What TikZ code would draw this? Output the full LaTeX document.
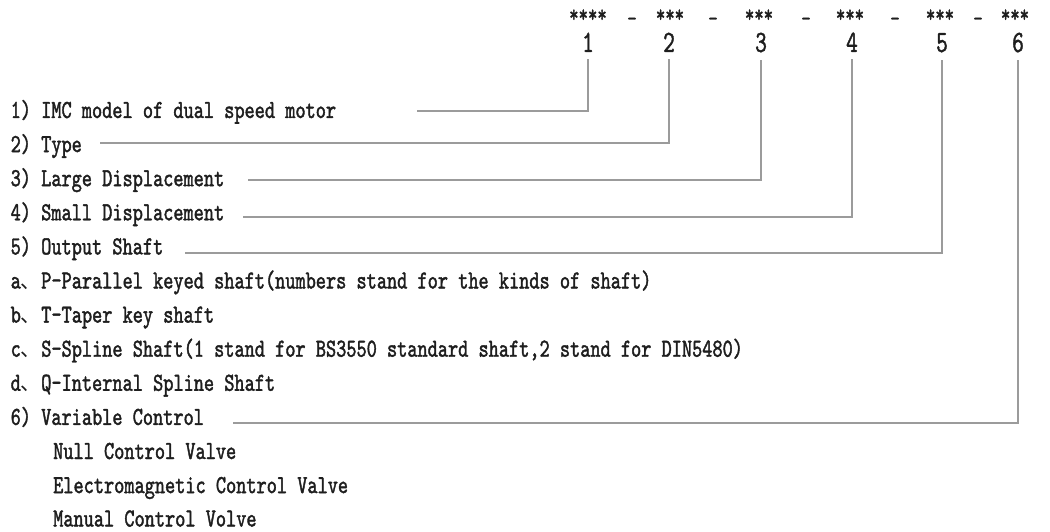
\documentclass[tikz,border=0pt]{standalone}
\usepackage{fontspec}
\newfontfamily\reffont[FakeStretch=0.745,FakeBold=1.5]{lmmono10-regular.otf}
\newfontfamily\numfont[FakeStretch=0.72,FakeBold=1.2]{lmmono10-regular.otf}
\newfontfamily\cjkfont{Noto Sans CJK SC}
\newcommand{\cjkcomma}{{\cjkfont\fontsize{20.4}{20}\selectfont 、}}
\definecolor{ink}{RGB}{30,30,30}
\definecolor{linegray}{RGB}{155,155,155}
\begin{document}
\begin{tikzpicture}[x=1pt,y=-1pt,
  itemtext/.style={anchor=base west, inner sep=0pt, text=ink, font=\reffont\fontsize{26}{30}\selectfont},
  startext/.style={anchor=base, inner sep=0pt, text=ink, font=\reffont\fontsize{24}{28}\selectfont},
  digit/.style={anchor=base, inner sep=0pt, text=ink, font=\numfont\fontsize{31}{34}\selectfont},
  conn/.style={draw=linegray, line width=1.4pt}]
\fill[white] (0,0) rectangle (1050,532);
\useasboundingbox (0,0) rectangle (1050,532);
% code header
\node[startext] (s1) at (588,22) {****};
\node[startext] (h1) at (632,26) {-};
\node[startext] (s2) at (670,22) {***};
\node[startext] (h2) at (713,26) {-};
\node[startext] (s3) at (759,22) {***};
\node[startext] (h3) at (806,26) {-};
\node[startext] (s4) at (850,22) {***};
\node[startext] (h4) at (895,26) {-};
\node[startext] (s5) at (940,22) {***};
\node[startext] (h5) at (978,26) {-};
\node[startext] (s6) at (1015,22) {***};
% digits
\node[digit] (n1) at (588,52) {1};
\node[digit] (n2) at (669,52) {2};
\node[digit] (n3) at (761,52) {3};
\node[digit] (n4) at (852,52) {4};
\node[digit] (n5) at (942,52) {5};
\node[digit] (n6) at (1018,52) {6};
% item texts
\node[itemtext] (t1) at (10.5,118) {1) IMC model of dual speed motor};
\node[itemtext] (t2) at (10.5,152.1) {2) Type};
\node[itemtext] (t3) at (10.5,186.2) {3) Large Displacement};
\node[itemtext] (t4) at (10.5,220.3) {4) Small Displacement};
\node[itemtext] (t5) at (10.5,254.4) {5) Output Shaft};
\node[itemtext] (ta) at (10.5,288.5) {a\cjkcomma P-Parallel keyed shaft(numbers stand for the kinds of shaft)};
\node[itemtext] (tb) at (10.5,322.6) {b\cjkcomma T-Taper key shaft};
\node[itemtext] (tc) at (10.5,356.7) {c\cjkcomma S-Spline Shaft(1 stand for BS3550 standard shaft,2 stand for DIN5480)};
\node[itemtext] (td) at (10.5,390.8) {d\cjkcomma Q-Internal Spline Shaft};
\node[itemtext] (t6) at (10.5,424.9) {6) Variable Control};
\node[itemtext] (v1) at (53,459) {Null Control Valve};
\node[itemtext] (v2) at (53,493.1) {Electromagnetic Control Valve};
\node[itemtext] (v3) at (53,526.5) {Manual Control Volve};
% connector starts
\coordinate (c1) at (417,111);
\coordinate (c2) at (100,143);
\coordinate (c3) at (248,180);
\coordinate (c4) at (243,217);
\coordinate (c5) at (185,253);
\coordinate (c6) at (233,423);
\draw[conn] (c1) -| ([yshift=-7pt]n1.south);
\draw[conn] (c2) -| ([yshift=-7pt]n2.south);
\draw[conn] (c3) -| ([yshift=-7pt]n3.south);
\draw[conn] (c4) -| ([yshift=-7pt]n4.south);
\draw[conn] (c5) -| ([yshift=-7pt]n5.south);
\draw[conn] (c6) -| ([yshift=-7pt]n6.south);
\end{tikzpicture}
\end{document}
